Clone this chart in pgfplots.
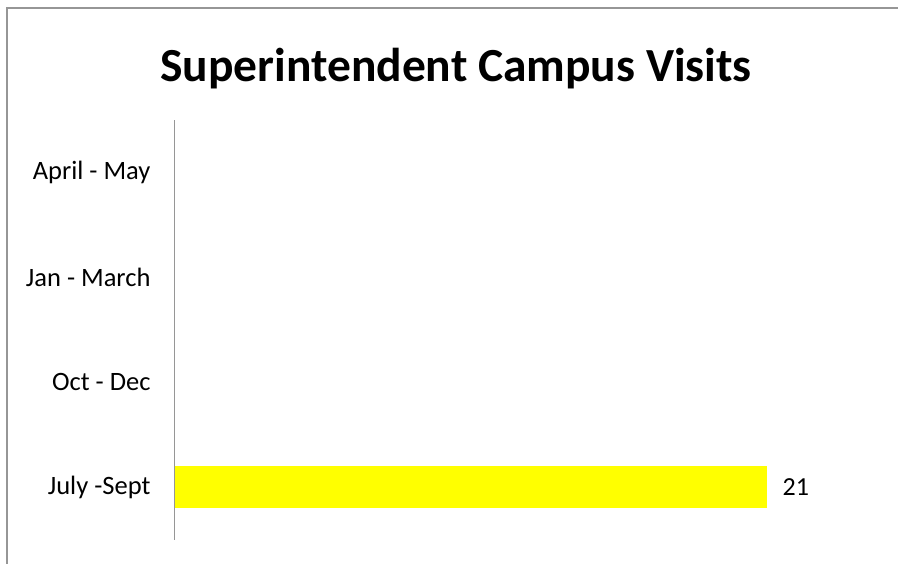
\documentclass[border=0pt]{standalone}
\usepackage{pgfplots}
\pgfplotsset{compat=1.18}
\usepackage{fontspec}
\setmainfont{Carlito}
\definecolor{framegray}{RGB}{150,150,150}
\definecolor{baryellow}{RGB}{255,255,0}
\begin{document}
\begin{tikzpicture}[x=1pt,y=1pt]
\path[use as bounding box] (0,0) rectangle (898,564);
% chart area frame (left and top edges)
\draw[framegray, line width=1.2pt] (7,0) -- (7,556) -- (898,556);
\node[font=\bfseries\fontsize{47.5}{56}\selectfont] at (456,495) {Superintendent Campus Visits};
\begin{axis}[
  at={(175pt,24pt)}, anchor=south west,
  scale only axis, width=705pt, height=420pt,
  xbar, bar width=42pt,
  xmin=0, xmax=25, ymin=-0.5, ymax=3.5,
  hide x axis,
  axis y line*=left,
  y axis line style={framegray, line width=1pt, -},
  ytick={0,1,2,3},
  yticklabels={July -Sept, Oct - Dec, Jan - March, April - May},
  yticklabel style={font=\fontsize{26.5}{32}\selectfont, xshift=-21pt},
  major tick length=0pt,
  nodes near coords,
  nodes near coords style={font=\fontsize{26}{31}\selectfont, black, xshift=12pt},
  /pgf/number format/assume math mode=true,
]
\addplot[fill=baryellow, draw=none] coordinates {(21,0)};
\end{axis}
\end{tikzpicture}
\end{document}
